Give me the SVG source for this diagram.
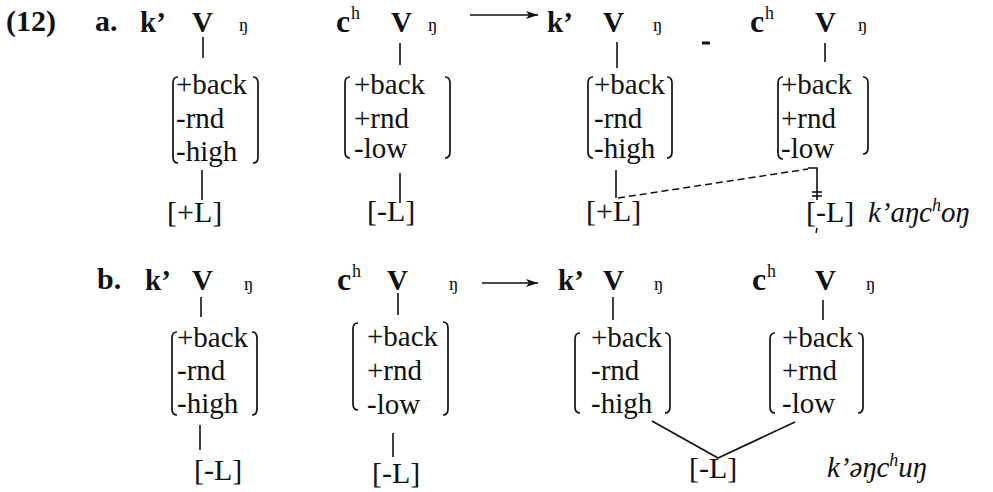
<svg xmlns="http://www.w3.org/2000/svg" width="993" height="492" viewBox="0 0 993 492">
<style>
text{font-family:"Liberation Serif","Times New Roman",serif;fill:#111}
.lab{font-size:30px;font-weight:bold}
.seg{font-size:29px;font-weight:bold}
.c{font-size:32px;font-weight:bold}
.ng{font-size:19px}
.sup{font-size:18px}
.f{font-size:29px}
.t{font-size:30px}
.it{font-size:29px;font-style:italic}
.br{fill:none;stroke:#111;stroke-width:1.7}
.ln{fill:none;stroke:#111;stroke-width:1.6}
.ds{fill:none;stroke:#111;stroke-width:1.5;stroke-dasharray:7 4}
</style>
<defs>
<marker id="ah" viewBox="0 0 12 8" refX="12" refY="4" markerWidth="12" markerHeight="8" markerUnits="userSpaceOnUse" orient="auto">
<path d="M0,0 L12,4 L0,8 L3,4 Z" fill="#111"/>
</marker>
</defs>
<rect width="993" height="492" fill="#fff"/>
<text class="lab" x="6" y="31">(12)</text>
<text class="lab" x="95" y="31">a.</text>
<text class="lab" x="97" y="289">b.</text>

<!-- Row a -->
<g id="a1-seg"><text class="seg" x="140" y="32">k’</text><text class="seg" x="192" y="32">V</text><text class="ng" x="239" y="31">ŋ</text></g>
<g id="a1-matrix"><path class="br" d="M178,77 Q173,77 173,83 L173,157 Q173,163 178,163"/><path class="br" d="M253,77 Q258,77 258,83 L258,157 Q258,163 253,163"/>
<text class="f" x="176" y="94">+back</text><text class="f" x="176" y="128">-rnd</text><text class="f" x="176" y="161">-high</text></g>
<g id="a1-tone"><text class="t" x="167" y="222">[+L]</text></g>

<g id="a2-seg"><text class="c" x="336" y="32">c</text><text class="sup" x="351" y="19">h</text><text class="seg" x="391" y="32">V</text><text class="ng" x="428" y="31">ŋ</text></g>
<g id="a2-matrix"><path class="br" d="M350,77 Q345,77 345,83 L345,152 Q345,158 350,158"/><path class="br" d="M445,77 Q450,77 450,83 L450,152 Q450,158 445,158"/>
<text class="f" x="354" y="94">+back</text><text class="f" x="354" y="128">+rnd</text><text class="f" x="354" y="158">-low</text></g>
<g id="a2-tone"><text class="t" x="367" y="221">[-L]</text></g>

<g id="a3-seg"><text class="seg" x="547" y="32">k’</text><text class="seg" x="603" y="32">V</text><text class="ng" x="653" y="31">ŋ</text></g>
<g id="a3-matrix"><path class="br" d="M593,77 Q588,77 588,83 L588,152 Q588,158 593,158"/><path class="br" d="M667,77 Q672,77 672,83 L672,152 Q672,158 667,158"/>
<text class="f" x="594" y="94">+back</text><text class="f" x="594" y="128">-rnd</text><text class="f" x="594" y="158">-high</text></g>
<g id="a3-tone"><text class="t" x="586" y="221">[+L]</text></g>

<g id="a4-seg"><text class="c" x="750" y="32">c</text><text class="sup" x="765" y="19">h</text><text class="seg" x="815" y="32">V</text><text class="ng" x="858" y="31">ŋ</text></g>
<g id="a4-matrix"><path class="br" d="M783,77 Q778,77 778,83 L778,153 Q778,159 783,159"/><path class="br" d="M863,77 Q868,77 868,83 L868,148 Q868,154 863,154"/>
<text class="f" x="781" y="94">+back</text><text class="f" x="781" y="128">+rnd</text><text class="f" x="781" y="158">-low</text></g>
<g id="a4-tone"><text class="t" x="806" y="222">[-L]</text></g>
<g id="a-gloss"><text class="it" x="868" y="222">k’aŋc<tspan class="sup" dy="-11">h</tspan><tspan dy="11">oŋ</tspan></text></g>
<line x1="702" y1="43" x2="710" y2="43" stroke="#111" stroke-width="3"/>
<line x1="817" y1="228" x2="816" y2="233" stroke="#111" stroke-width="1.5"/>

<!-- Row b -->
<g id="b1-seg"><text class="seg" x="145" y="290">k’</text><text class="seg" x="192" y="290">V</text><text class="ng" x="244" y="290">ŋ</text></g>
<g id="b1-matrix"><path class="br" d="M177,332 Q172,332 172,338 L172,409 Q172,415 177,415"/><path class="br" d="M252,332 Q257,332 257,338 L257,409 Q257,415 252,415"/>
<text class="f" x="177" y="347">+back</text><text class="f" x="177" y="380">-rnd</text><text class="f" x="177" y="413">-high</text></g>
<g id="b1-tone"><text class="t" x="194" y="480">[-L]</text></g>

<g id="b2-seg"><text class="c" x="337" y="290">c</text><text class="sup" x="352" y="277">h</text><text class="seg" x="387" y="290">V</text><text class="ng" x="449" y="290">ŋ</text></g>
<g id="b2-matrix"><path class="br" d="M358,323 Q353,323 353,329 L353,404 Q353,410 358,410"/><path class="br" d="M443,322 Q448,322 448,328 L448,409 Q448,415 443,415"/>
<text class="f" x="367" y="346">+back</text><text class="f" x="367" y="380">+rnd</text><text class="f" x="367" y="414">-low</text></g>
<g id="b2-tone"><text class="t" x="372" y="483">[-L]</text></g>

<g id="b3-seg"><text class="seg" x="558" y="290">k’</text><text class="seg" x="603" y="290">V</text><text class="ng" x="654" y="290">ŋ</text></g>
<g id="b3-matrix"><path class="br" d="M580,333 Q575,333 575,339 L575,407 Q575,413 580,413"/><path class="br" d="M665,333 Q670,333 670,339 L670,407 Q670,413 665,413"/>
<text class="f" x="591" y="347">+back</text><text class="f" x="591" y="380">-rnd</text><text class="f" x="591" y="413">-high</text></g>

<g id="b4-seg"><text class="c" x="752" y="290">c</text><text class="sup" x="767" y="277">h</text><text class="seg" x="815" y="290">V</text><text class="ng" x="866" y="290">ŋ</text></g>
<g id="b4-matrix"><path class="br" d="M775,333 Q770,333 770,339 L770,407 Q770,413 775,413"/><path class="br" d="M858,333 Q863,333 863,339 L863,407 Q863,413 858,413"/>
<text class="f" x="782" y="347">+back</text><text class="f" x="782" y="380">+rnd</text><text class="f" x="782" y="413">-low</text></g>
<g id="b-tone"><text class="t" x="689" y="478">[-L]</text></g>
<g id="b-gloss"><text class="it" x="827" y="477">k’əŋc<tspan class="sup" dy="-11">h</tspan><tspan dy="11">uŋ</tspan></text></g>

<g id="connectors">
<line class="ln" x1="470" y1="15" x2="538" y2="15" marker-end="url(#ah)"/>
<line class="ln" x1="482" y1="283" x2="538" y2="283" marker-end="url(#ah)"/>
<line class="ln" x1="203" y1="37" x2="203" y2="58"/>
<line class="ln" x1="202" y1="170" x2="202" y2="200"/>
<line class="ln" x1="400" y1="43" x2="400" y2="65"/>
<line class="ln" x1="400" y1="173" x2="400" y2="203"/>
<line class="ln" x1="617" y1="42" x2="617" y2="68"/>
<line class="ln" x1="616" y1="170" x2="616" y2="198"/>
<line class="ds" x1="618" y1="198" x2="808" y2="169"/>
<line class="ln" x1="825" y1="43" x2="825" y2="62"/>
<path class="ln" d="M808,168 L817,168 L817,200"/>
<line class="ln" x1="812" y1="192" x2="822" y2="192"/>
<line class="ln" x1="812" y1="196" x2="822" y2="196"/>
<line class="ln" x1="201" y1="297" x2="201" y2="317"/>
<line class="ln" x1="200" y1="425" x2="200" y2="450"/>
<line class="ln" x1="398" y1="293" x2="398" y2="315"/>
<line class="ln" x1="393" y1="433" x2="393" y2="457"/>
<line class="ln" x1="613" y1="297" x2="613" y2="320"/>
<line class="ln" x1="823" y1="300" x2="823" y2="320"/>
<path class="ln" d="M652,421 L718,458 L795,422"/>
</g>
</svg>
